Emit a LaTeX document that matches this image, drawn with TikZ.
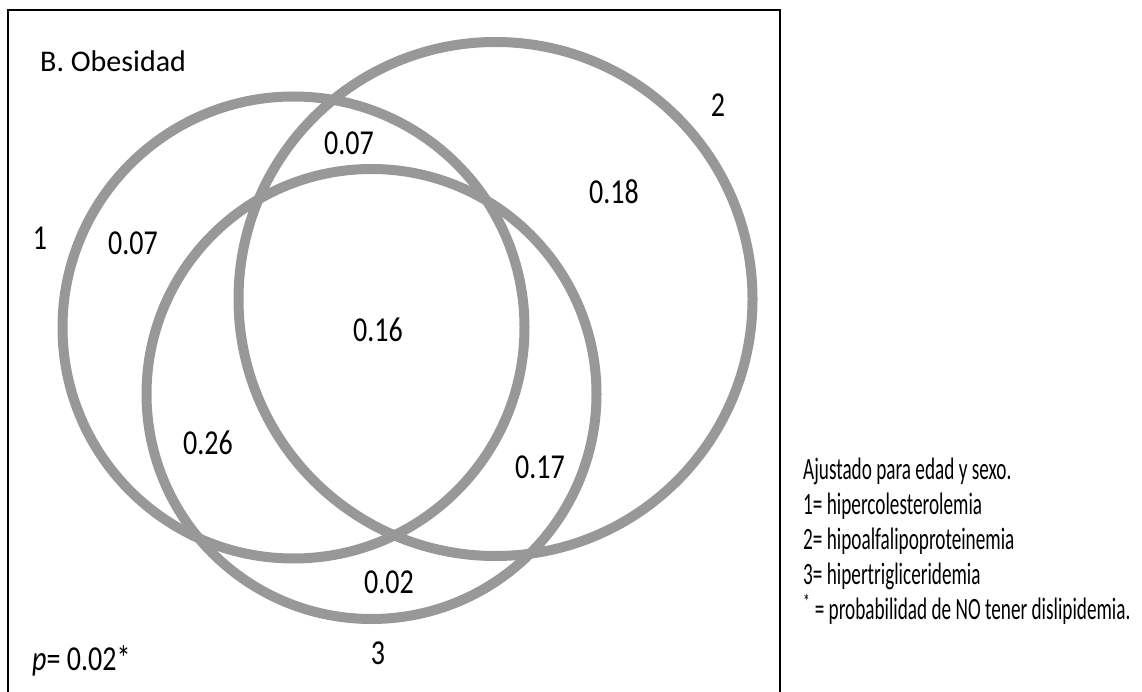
\documentclass[tikz,border=0pt]{standalone}
\usepackage{fontspec}
\setmainfont{Carlito}
\newfontfamily\numfont[FakeStretch=0.8]{Carlito}
\newfontfamily\narrowfont[FakeStretch=0.62]{Carlito}
\usepackage{tikz}
\definecolor{ringgray}{RGB}{152,152,152}

\begin{document}
\begin{tikzpicture}[x=1pt,y=-1pt,
  ring/.style={draw=ringgray,line width=10pt},
  val/.style={font=\numfont\fontsize{35}{40}\selectfont,inner sep=0pt},
  leg/.style={font=\narrowfont\fontsize{31}{36}\selectfont,inner sep=0pt,anchor=base west}]
\useasboundingbox (0,0) rectangle (1142,692);
\draw[line width=1.5pt] (8,692) -- (8,10) -- (780,10) -- (780,692);
% the three sets
\draw[ring] (293.5,327.5) circle[radius=231pt];
\draw[ring] (495.5,299) circle[radius=257pt];
\draw[ring] (371.5,394) circle[radius=225pt];
\node[inner sep=0pt,anchor=base west,font=\fontsize{30}{34}\selectfont] (title) at (40,72) {B. Obesidad};
\node[val] (set1) at (40,238) {1};
\node[val] (set2) at (718,105) {2};
\node[val] (set3) at (378,653) {3};
\node[val] (only1) at (133,243) {0.07};
\node[val] (in12) at (349,143) {0.07};
\node[val] (only2) at (614,192) {0.18};
\node[val] (in123) at (378,330) {0.16};
\node[val] (in13) at (208,443) {0.26};
\node[val] (in23) at (540,467) {0.17};
\node[val] (only3) at (389,582) {0.02};
\node[val,anchor=base west] (pval) at (32,670) {\textit{p}= 0.02*};
% legend
\node[leg] (leg1) at (803,479) {Ajustado para edad y sexo.};
\node[leg] (leg2) at (803,514) {1= hipercolesterolemia};
\node[leg] (leg3) at (803,549) {2= hipoalfalipoproteinemia};
\node[leg] (leg4) at (803,584) {3= hipertrigliceridemia};
\node[leg] (leg5) at (803,619) {\textsuperscript{*} = probabilidad de NO tener dislipidemia.};
\end{tikzpicture}
\end{document}
